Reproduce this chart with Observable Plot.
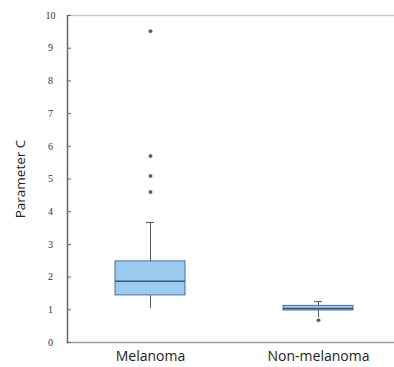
<!DOCTYPE html>
<html>
<head>
<meta charset="utf-8">
<script src="https://cdn.jsdelivr.net/npm/d3@7"></script>
<script src="https://cdn.jsdelivr.net/npm/@observablehq/plot@0.6"></script>
<style>
  html, body { margin: 0; padding: 0; background: #fff; }
</style>
</head>
<body>
<div id="chart"></div>
<script>
const categories = ["Melanoma", "Non-melanoma"];
const q1 = [1.44, 0.98];
const median = [1.87, 1.04];
const q3 = [2.48, 1.12];
const whiskerLow = [1.04, 0.76];
const whiskerHigh = [3.67, 1.25];
const outlierCat = ["Melanoma", "Melanoma", "Melanoma", "Melanoma", "Non-melanoma"];
const outlierVal = [9.52, 5.70, 5.09, 4.60, 0.68];
const yTicks = [0, 1, 2, 3, 4, 5, 6, 7, 8, 9, 10];

const boxes = categories.map((c, i) => ({
  cat: c, q1: q1[i], med: median[i], q3: q3[i], lo: whiskerLow[i], hi: whiskerHigh[i]
}));
const outliers = outlierCat.map((c, i) => ({cat: c, v: outlierVal[i]}));

const chart = Plot.plot({
  width: 394,
  height: 367,
  marginLeft: 67,
  marginRight: 0,
  marginTop: 15,
  marginBottom: 25,
  style: {background: "#fff", overflow: "visible"},
  x: {domain: categories, range: [66, 402], padding: 0, label: null},
  y: {domain: [0, 10], label: null},
  marks: [
    Plot.frame({anchor: "top", stroke: "#c8c8c8", strokeWidth: 1.5}),
    Plot.frame({anchor: "bottom", stroke: "#9a9a9a", strokeWidth: 1.5}),
    Plot.frame({anchor: "left", stroke: "#666", strokeWidth: 1.5}),
    Plot.ruleX(boxes, {x: "cat", y1: "lo", y2: "q1", stroke: "#555", strokeWidth: 1}),
    Plot.ruleX(boxes, {x: "cat", y1: "q3", y2: "hi", stroke: "#555", strokeWidth: 1}),
    Plot.tickY(boxes, {x: "cat", y: "hi", stroke: "#555", insetLeft: 80, insetRight: 80}),
    Plot.barY(boxes, {x: "cat", y1: "q1", y2: "q3", fill: "#9ccbf2", stroke: "#4f6f8f", strokeWidth: 1, insetLeft: 49, insetRight: 49}),
    Plot.tickY(boxes, {x: "cat", y: "med", stroke: "#3d5670", strokeWidth: 1.5, insetLeft: 49, insetRight: 49}),
    Plot.dot(outliers, {x: "cat", y: "v", r: 1.8, fill: "#555", stroke: "#888", strokeWidth: 0.5}),
    Plot.axisY(yTicks, {tickSize: 4, dx: 4, text: null, stroke: "#666"}),
    Plot.axisY(yTicks, {tickSize: 0, tickPadding: 17, textAnchor: "middle", fontFamily: "Liberation Serif", fontSize: 10, fill: "#333", label: null}),
    Plot.axisX({tickSize: 0, tickPadding: 9, fontFamily: "Open Sans", fontSize: 14, fill: "#222", label: null}),
    Plot.text(["Parameter C"], {frameAnchor: "left", textAnchor: "middle", dx: -47, rotate: -90, fontFamily: "Open Sans", fontSize: 13.5, fill: "#222", text: d => d})
  ]
});
document.getElementById("chart").appendChild(chart);
</script>
</body>
</html>
